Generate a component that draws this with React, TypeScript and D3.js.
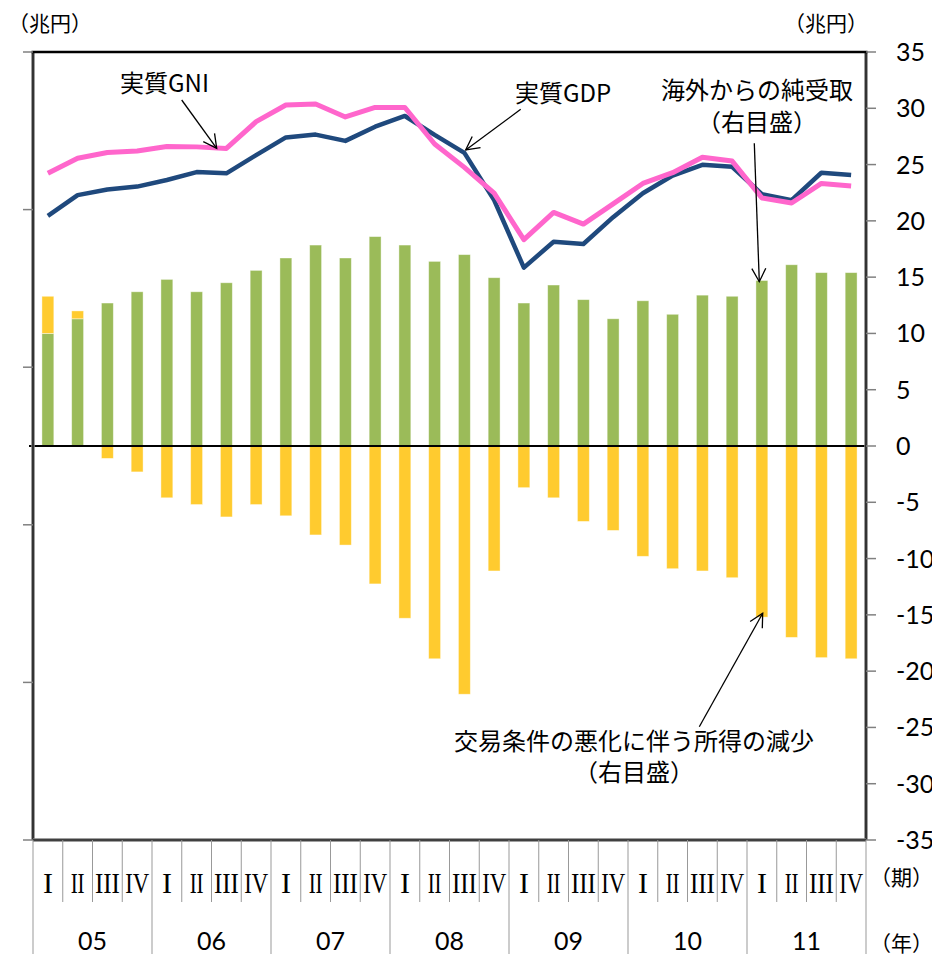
import React, { useEffect, useRef } from 'react';
import * as d3 from 'd3';

// 年・四半期
const years = ['05', '06', '07', '08', '09', '10', '11'];
const quarters = ['I', 'II', 'III', 'IV'];
const categories = years.flatMap(y => quarters.map(q => `${y}-${q}`));

// 実質GDP・実質GNI（左目盛、兆円）
const realGDP = [
  548.0, 554.6, 556.4, 557.3, 559.4, 561.9, 561.5, 567.3, 572.9, 573.8,
  571.8, 576.3, 579.7, 573.7, 568.0, 553.0, 531.6, 539.8, 539.1, 547.6,
  555.2, 560.8, 564.2, 563.6, 554.9, 553.0, 561.7, 561.0
];
const realGNI = [
  561.5, 566.3, 568.1, 568.6, 570.0, 569.9, 569.4, 577.9, 583.2, 583.5,
  579.4, 582.4, 582.4, 570.8, 563.4, 555.2, 540.5, 549.1, 545.4, 551.8,
  558.3, 561.7, 566.6, 565.4, 553.7, 552.1, 558.3, 557.5
];

// 海外からの純受取（右目盛、兆円）
const netIncomeAbroad = [
  10.0, 11.3, 12.7, 13.7, 14.8, 13.7, 14.5, 15.6, 16.7, 17.85,
  16.7, 18.6, 17.85, 16.4, 17.0, 14.95, 12.7, 14.3, 13.0, 11.3,
  12.9, 11.7, 13.4, 13.3, 14.7, 16.1, 15.4, 15.4
];
// 交易条件の変化に伴う所得（右目盛、兆円）
const tradingGain = [
  3.3, 0.7, -1.1, -2.3, -4.6, -5.2, -6.3, -5.2, -6.2, -7.9,
  -8.8, -12.25, -15.3, -18.9, -22.05, -11.1, -3.7, -4.6, -6.7, -7.5,
  -9.8, -10.9, -11.1, -11.7, -15.2, -17.0, -18.8, -18.9
];

const rightTicks = [35, 30, 25, 20, 15, 10, 5, 0, -5, -10, -15, -20, -25, -30, -35];
const leftTicks = [600, 550, 500, 450, 400, 350];

const JP = '"Noto Sans CJK JP", "Noto Sans", sans-serif';

const Chart = () => {
  const ref = useRef<HTMLDivElement>(null);

  useEffect(() => {
    const width = 932;
    const height = 954;
    const left = 33, right = 866, top = 52, bottom = 840;

    const root = d3.select(ref.current);
    root.selectAll('*').remove();

    const svg = root.append('svg')
      .attr('width', width)
      .attr('height', height)
      .style('position', 'absolute')
      .style('left', 0)
      .style('top', 0)
      .style('background', '#fff');

    const x = d3.scaleBand<string>().domain(categories).range([left, right])
      .paddingInner(0.6).paddingOuter(0.3);
    const step = x.step();
    const yL = d3.scaleLinear().domain([350, 600]).range([bottom, top]);
    const yR = d3.scaleLinear().domain([-35, 35]).range([bottom, top]);

    // bars
    const table = categories.map((c, i) => ({ cat: c, net: netIncomeAbroad[i], trade: tradingGain[i] }));
    const stack = d3.stack<any>().keys(['net', 'trade']).offset(d3.stackOffsetDiverging);
    const colors: Record<string, string> = { net: '#9bbb59', trade: '#ffcb2f' };

    svg.append('g').selectAll('g')
      .data(stack(table))
      .enter()
      .append('g')
      .attr('fill', d => colors[d.key])
      .selectAll('rect')
      .data(d => d)
      .enter()
      .append('rect')
      .attr('x', d => x(d.data.cat)!)
      .attr('width', x.bandwidth())
      .attr('y', d => yR(Math.max(d[0], d[1])))
      .attr('height', d => Math.abs(yR(d[0]) - yR(d[1])))
      .attr('stroke', 'rgba(255,255,255,0.5)')
      .attr('stroke-width', 0.8);

    // zero line
    svg.append('line')
      .attr('x1', left - 4).attr('x2', right)
      .attr('y1', yR(0)).attr('y2', yR(0))
      .attr('stroke', '#000').attr('stroke-width', 2);

    // lines
    const cx = (c: string) => x(c)! + x.bandwidth() / 2;
    const line = d3.line<number>().x((_, i) => cx(categories[i])).y(d => yL(d));
    svg.append('path').attr('d', line(realGDP)!)
      .attr('fill', 'none').attr('stroke', '#1f497d').attr('stroke-width', 4.5)
      .attr('stroke-linejoin', 'round');
    svg.append('path').attr('d', line(realGNI)!)
      .attr('fill', 'none').attr('stroke', '#ff66cc').attr('stroke-width', 5)
      .attr('stroke-linejoin', 'round');

    // frame
    const frame = svg.append('g');
    [[left, top, left, bottom], [right, top, right, bottom], [left, bottom, right, bottom]].forEach(([x1, y1, x2, y2]) => {
      frame.append('line').attr('x1', x1).attr('y1', y1).attr('x2', x2).attr('y2', y2)
        .attr('stroke', '#808080').attr('stroke-width', 3.5);
      frame.append('line').attr('x1', x1).attr('y1', y1).attr('x2', x2).attr('y2', y2)
        .attr('stroke', '#000').attr('stroke-width', 1.2);
    });
    frame.append('line').attr('x1', left - 1.5).attr('x2', right + 1.5)
      .attr('y1', top).attr('y2', top).attr('stroke', '#000').attr('stroke-width', 2.5);

    // left ticks (no labels)
    svg.append('g').selectAll('line').data(leftTicks).enter().append('line')
      .attr('x1', left - 10).attr('x2', left)
      .attr('y1', d => yL(d)).attr('y2', d => yL(d))
      .attr('stroke', '#808080').attr('stroke-width', 1.5);

    // right axis
    const rAxis = svg.append('g');
    rAxis.selectAll('line').data(rightTicks).enter().append('line')
      .attr('x1', right).attr('x2', right + 10)
      .attr('y1', d => yR(d)).attr('y2', d => yR(d))
      .attr('stroke', '#808080').attr('stroke-width', 1.5);
    rAxis.selectAll('text').data(rightTicks).enter().append('text')
      .attr('x', 896).attr('y', d => yR(d) + 9)
      .style('font-family', 'Lato, sans-serif').style('font-size', '25px')
      .text(d => d);

    // x axis grid of labels
    const xa = svg.append('g');
    d3.range(categories.length + 1).forEach(k => {
      const xx = left + k * step;
      xa.append('line').attr('x1', xx).attr('x2', xx)
        .attr('y1', bottom).attr('y2', k % 4 === 0 ? height : 902)
        .attr('stroke', '#999').attr('stroke-width', 1);
    });
    const qWidths: Record<string, number> = { I: 10, II: 14, III: 25, IV: 24 };
    xa.selectAll('text.q').data(categories).enter().append('text')
      .attr('class', 'q')
      .attr('x', d => cx(d)).attr('y', 893)
      .attr('text-anchor', 'middle')
      .attr('textLength', d => qWidths[d.split('-')[1]])
      .attr('lengthAdjust', 'spacingAndGlyphs')
      .style('font-family', '"Liberation Serif", serif').style('font-size', '29px')
      .text(d => d.split('-')[1]);
    xa.selectAll('text.y').data(years).enter().append('text')
      .attr('class', 'y')
      .attr('x', (_, i) => left + (i * 4 + 2) * step).attr('y', 950)
      .attr('text-anchor', 'middle')
      .style('font-family', 'Lato, sans-serif').style('font-size', '25px')
      .text(d => d);

    const label = (t: string, xx: number, yy: number, anchor = 'start', size = 24) =>
      svg.append('text').attr('x', xx).attr('y', yy).attr('text-anchor', anchor)
        .style('font-family', JP).style('font-size', `${size}px`).text(t);

    label('（兆円）', 8, 31, 'start', 21);
    label('（兆円）', 868, 31, 'end', 21);
    label('（期）', 870, 885, 'start', 21);
    label('（年）', 870, 951, 'start', 21);

    label('実質GNI', 120, 92);
    label('実質GDP', 515, 102);
    label('海外からの純受取', 757, 99, 'middle');
    label('（右目盛）', 757, 131, 'middle');
    label('交易条件の悪化に伴う所得の減少', 634, 750, 'middle');
    label('（右目盛）', 634, 781, 'middle');

    // arrows
    const arrow = (x1: number, y1: number, x2: number, y2: number) => {
      const g = svg.append('g').attr('stroke', '#000').attr('stroke-width', 1.3).attr('fill', 'none');
      g.append('line').attr('x1', x1).attr('y1', y1).attr('x2', x2).attr('y2', y2);
      const a = Math.atan2(y1 - y2, x1 - x2);
      const len = 15, spread = Math.PI / 6.5;
      const pts: [number, number][] = [
        [x2 + len * Math.cos(a - spread), y2 + len * Math.sin(a - spread)],
        [x2, y2],
        [x2 + len * Math.cos(a + spread), y2 + len * Math.sin(a + spread)]
      ];
      g.append('path').attr('d', d3.line()(pts)!);
    };
    arrow(181.7, 100, 216.7, 148.3);
    arrow(520.7, 109.3, 465.7, 150);
    arrow(754.3, 143.3, 759.3, 281.7);
    arrow(699.3, 726.7, 762.7, 613.3);

    return () => {
      root.selectAll('*').remove();
    };
  }, []);

  return <div ref={ref}></div>;
};

export default function App() {
  return <Chart />;
}
